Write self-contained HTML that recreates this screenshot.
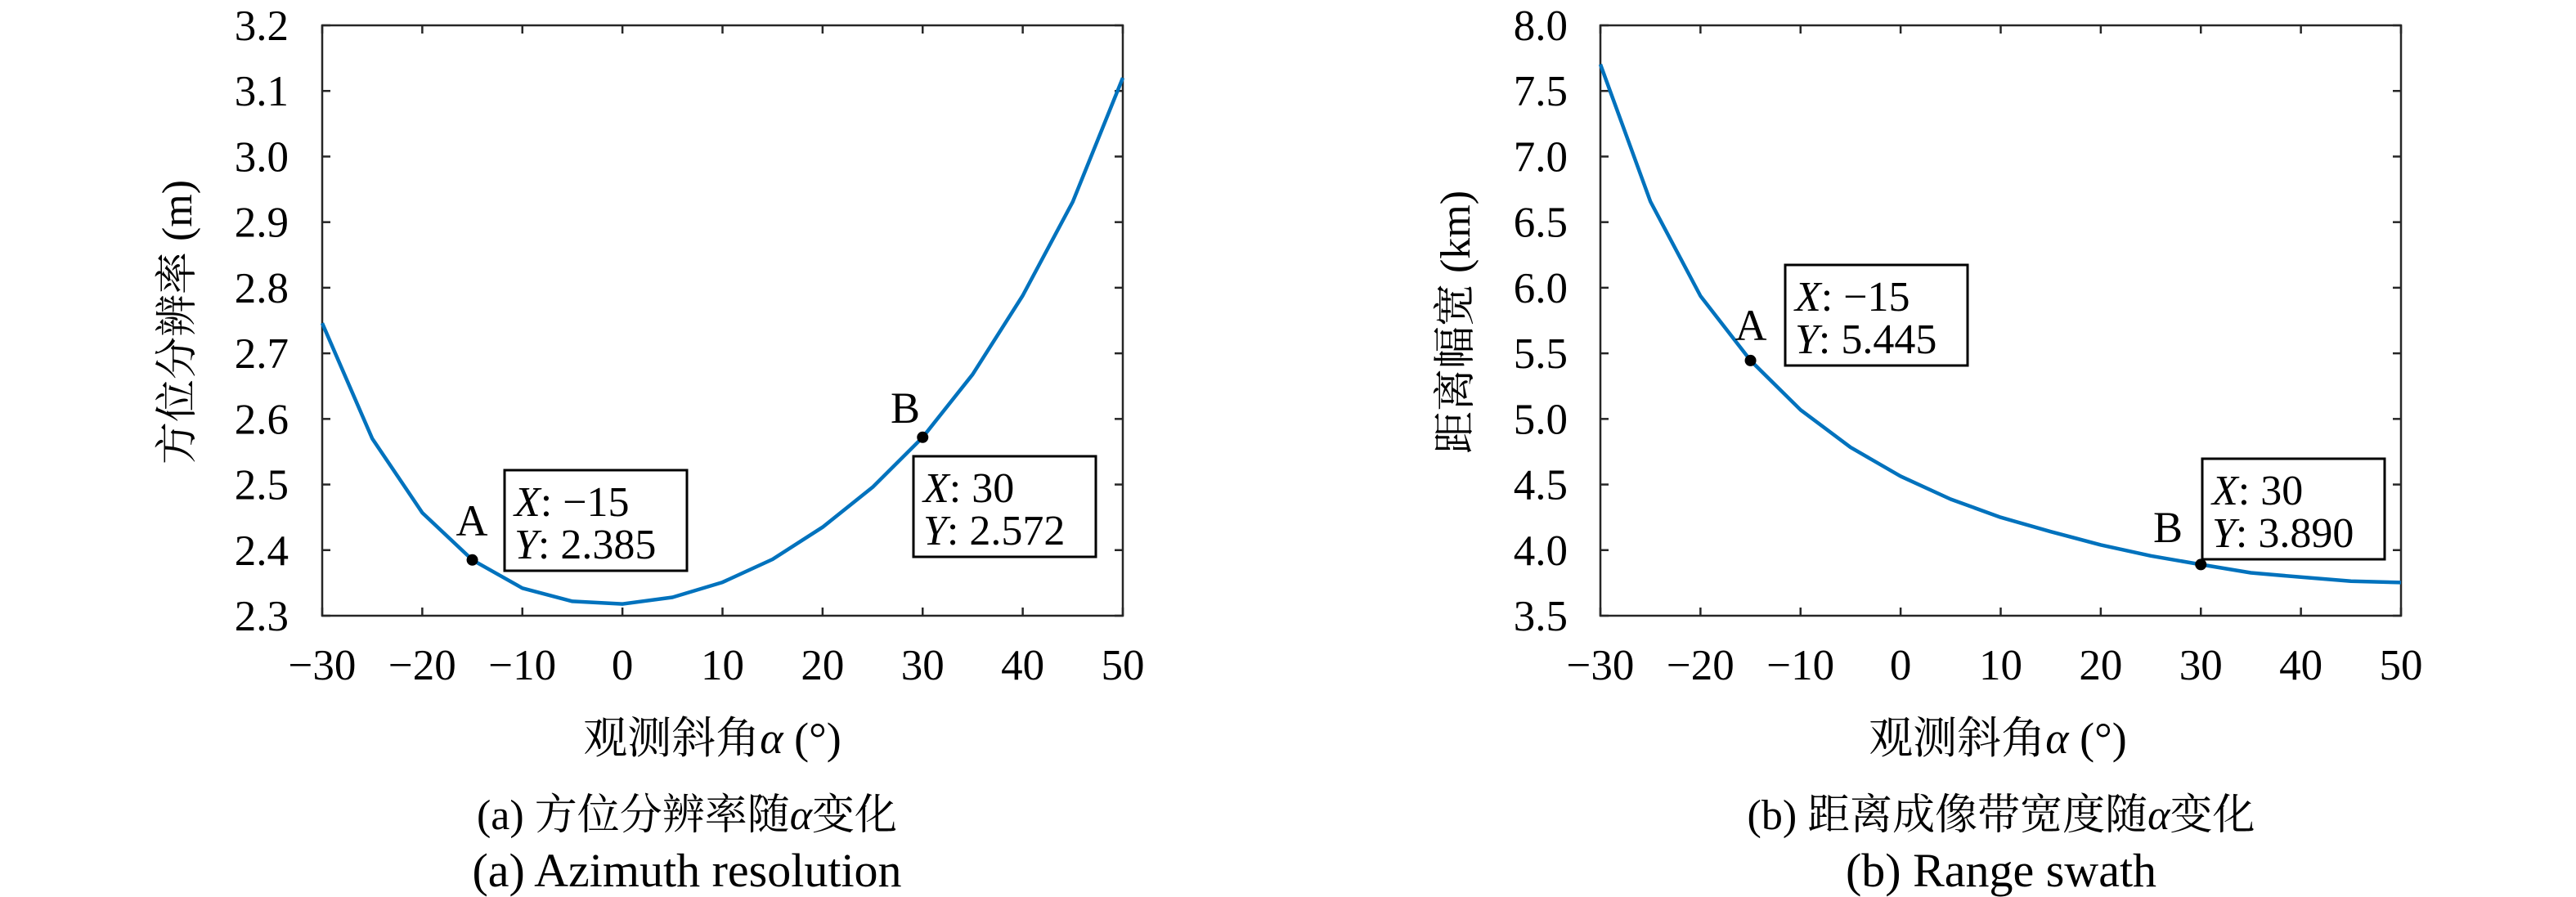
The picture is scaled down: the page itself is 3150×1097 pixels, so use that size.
<!DOCTYPE html>
<html><head><meta charset="utf-8"><style>
html,body{margin:0;padding:0;background:#fff;}
svg{display:block;}
text{font-family:"Liberation Serif","Noto Serif CJK SC",serif;fill:#000;}
</style></head><body>
<svg id="fig" width="3150" height="1097" viewBox="0 0 3150 1097" xmlns="http://www.w3.org/2000/svg"></svg>
<script>
const xValues = [-30,-25,-20,-15,-10,-5,0,5,10,15,20,25,30,35,40,45,50];
const azimuthValues = [2.746,2.570,2.457,2.385,2.342,2.322,2.318,2.328,2.351,2.386,2.435,2.496,2.572,2.668,2.788,2.931,3.120];
const swathValues = [7.703,6.657,5.937,5.445,5.069,4.783,4.563,4.388,4.250,4.141,4.040,3.956,3.890,3.827,3.794,3.763,3.753];
const xTicks = [-30,-20,-10,0,10,20,30,40,50];
const yTicksA = [2.3,2.4,2.5,2.6,2.7,2.8,2.9,3.0,3.1,3.2];
const yTicksB = [3.5,4.0,4.5,5.0,5.5,6.0,6.5,7.0,7.5,8.0];
const tipA = [{x:-15,y:2.385,label:"A",ys:"2.385"},{x:30,y:2.572,label:"B",ys:"2.572"}];
const tipB = [{x:-15,y:5.445,label:"A",ys:"5.445"},{x:30,y:3.890,label:"B",ys:"3.890"}];

const NS="http://www.w3.org/2000/svg";
const svg=document.getElementById('fig');
function mk(tag,attrs,parent){const e=document.createElementNS(NS,tag);for(const k in attrs)e.setAttribute(k,attrs[k]);(parent||svg).appendChild(e);return e;}
function fmt(v){return v<0?'\u2212'+Math.abs(v):String(v);}

function panel(cfg){
  const g=mk('g',{});
  
  
  const L=cfg.L,R=cfg.R,T=31,B=753;
  const sx=v=>L+(v-(-30))/80*(R-L);
  const sy=v=>B-(v-cfg.ymin)/(cfg.ymax-cfg.ymin)*(B-T);
  xTicks.forEach(t=>{
    const x=sx(t);
    const tb=mk('line',{x1:x,x2:x,y1:B,y2:B-10,stroke:'#262626','stroke-width':2.5},g);
    
    
    mk('line',{x1:x,x2:x,y1:T,y2:T+10,stroke:'#262626','stroke-width':2.5},g);
    const tx=mk('text',{x:x,y:831,'text-anchor':'middle','font-size':53},g);
    tx.textContent=fmt(t);
    
    
  });
  cfg.yTicks.forEach(t=>{
    const y=sy(t);
    const tl=mk('line',{x1:L,x2:L+10,y1:y,y2:y,stroke:'#262626','stroke-width':2.5},g);
    
    
    mk('line',{x1:R,x2:R-10,y1:y,y2:y,stroke:'#262626','stroke-width':2.5},g);
    const tx=mk('text',{x:cfg.labR,y:y+18,'text-anchor':'end','font-size':53},g);
    tx.textContent=t.toFixed(1);
    
    
  });
  const box=mk('rect',{x:L,y:T,width:R-L,height:B-T,fill:'none',stroke:'#262626','stroke-width':2.5},g);
  
  
  const pts=xValues.map((x,i)=>sx(x).toFixed(1)+','+sy(cfg.values[i]).toFixed(1)).join(' ');
  const pl=mk('polyline',{points:pts,fill:'none',stroke:'#0072BD','stroke-width':4.5,'stroke-linejoin':'round'},g);
  
  
  cfg.tips.forEach((tp,i)=>{
    const px=sx(tp.x),py=sy(tp.y);
    const c=mk('circle',{cx:px,cy:py,r:7,fill:'#000'},g);
    
    
    const bx=cfg.boxes[i];
    const lt=mk('text',{x:bx.lx,y:bx.ly+18,'text-anchor':'middle','font-size':54},g);
    lt.textContent=tp.label;
    
    
    const r=mk('rect',{x:bx.x,y:bx.y,width:223,height:123,fill:'#fff',stroke:'#000','stroke-width':3},g);
    
    
    const t1=mk('text',{x:bx.x+12,y:bx.y+56,'font-size':52},g);
    t1.innerHTML='<tspan font-style="italic">X</tspan>: '+fmt(tp.x);
    
    
    const t2=mk('text',{x:bx.x+12,y:bx.y+108,'font-size':52},g);
    t2.innerHTML='<tspan font-style="italic">Y</tspan>: '+tp.ys;
    
    
  });
  const xl=mk('text',{x:cfg.xlabX,y:921,'text-anchor':'middle','font-size':54},g);
  xl.innerHTML='观测斜角<tspan font-style="italic">α</tspan> (°)';
  
  
  const yl=mk('text',{x:0,y:0,'text-anchor':'middle','font-size':52,transform:'translate('+(cfg.ylabX+17)+',394) rotate(-90)'},g);
  yl.textContent=cfg.ylab;
  
  
  const c1=mk('text',{x:cfg.capX,y:1014,'text-anchor':'middle','font-size':52},g);
  c1.innerHTML=cfg.cap1;
  
  
  const c2=mk('text',{x:cfg.capX,y:1084,'text-anchor':'middle','font-size':58},g);
  c2.textContent=cfg.cap2;
  
  
}

panel({name:'azimuth-resolution-chart',L:394,R:1373,ymin:2.3,ymax:3.2,yTicks:yTicksA,values:azimuthValues,tips:tipA,labR:353,
  boxes:[{x:617,y:575,lx:577,ly:637},{x:1117,y:558,lx:1107,ly:499}],
  xlabX:871,ylabX:217,ylab:'方位分辨率 (m)',capX:840,
  cap1:'(a) 方位分辨率随<tspan font-style="italic">α</tspan>变化',cap2:'(a) Azimuth resolution'});
panel({name:'range-swath-chart',L:1957,R:2936,ymin:3.5,ymax:8.0,yTicks:yTicksB,values:swathValues,tips:tipB,labR:1917,
  boxes:[{x:2183,y:324,lx:2141,ly:398},{x:2693,y:561,lx:2651,ly:645}],
  xlabX:2443,ylabX:1780,ylab:'距离幅宽 (km)',capX:2447,
  cap1:'(b) 距离成像带宽度随<tspan font-style="italic">α</tspan>变化',cap2:'(b) Range swath'});
</script>
</body></html>
